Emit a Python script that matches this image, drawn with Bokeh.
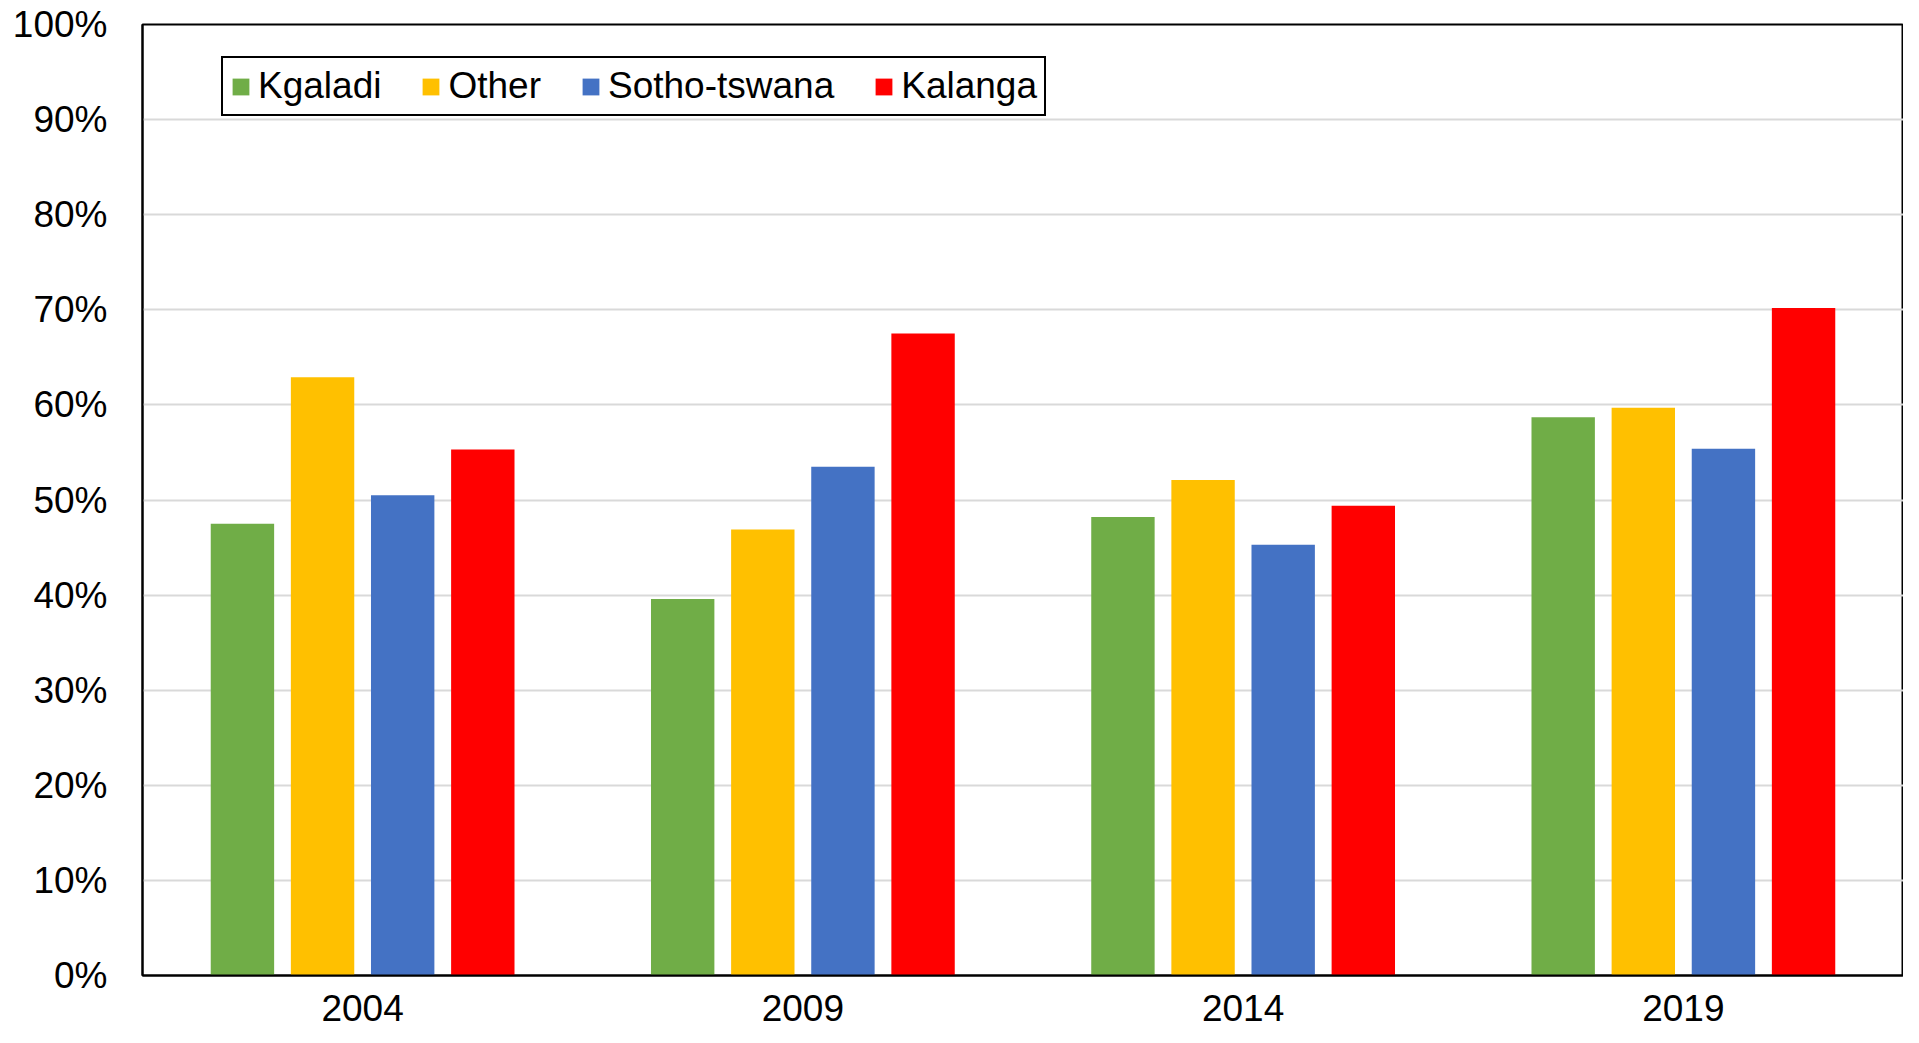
from bokeh.plotting import figure
from bokeh.models import (ColumnDataSource, Legend, LegendItem, NumeralTickFormatter,
                          FixedTicker, Range1d)
from bokeh.transform import dodge
from bokeh.embed import file_html
from bokeh.resources import INLINE

# ---- data (percent) ----
years = ["2004", "2009", "2014", "2019"]
kgaladi = [47.5, 39.6, 48.2, 58.7]
other = [62.9, 46.9, 52.1, 59.7]
sotho_tswana = [50.5, 53.5, 45.3, 55.4]
kalanga = [55.3, 67.5, 49.4, 70.2]
series_names = ["Kgaladi", "Other", "Sotho-tswana", "Kalanga"]
y_ticks = [0, 10, 20, 30, 40, 50, 60, 70, 80, 90, 100]

colors = ["#70AD47", "#FFC000", "#4472C4", "#FF0000"]
FONT = "Liberation Sans"

source = ColumnDataSource(dict(
    year=years,
    kg=[v / 100 for v in kgaladi],
    ot=[v / 100 for v in other],
    st=[v / 100 for v in sotho_tswana],
    ka=[v / 100 for v in kalanga],
))

p = figure(x_range=years, y_range=Range1d(0, 1),
           width=1903, height=1027,
           output_backend="svg", toolbar_location=None,
           min_border_left=142, min_border_right=0,
           min_border_top=24, min_border_bottom=52)

bar_w = 0.144
offsets = [-0.273, -0.091, 0.091, 0.273]
cols = ["kg", "ot", "st", "ka"]
renderers = []
for col, off, c in zip(cols, offsets, colors):
    r = p.vbar(x=dodge("year", off, range=p.x_range), top=col, width=bar_w,
               source=source, fill_color=c, line_color=None)
    renderers.append(r)

# axes
p.yaxis.ticker = FixedTicker(ticks=[t / 100 for t in y_ticks])
p.yaxis.formatter = NumeralTickFormatter(format="0%")
for ax in (p.xaxis, p.yaxis):
    ax.major_label_text_font = FONT
    ax.major_label_text_font_size = "37px"
    ax.major_label_text_color = "black"
    ax.major_tick_line_color = None
    ax.minor_tick_line_color = None
    ax.axis_line_color = "black"
    ax.axis_line_width = 2
p.yaxis.major_label_standoff = 29
p.xaxis.major_label_standoff = 13

p.xgrid.grid_line_color = None
p.ygrid.grid_line_color = "#D9D9D9"
p.ygrid.grid_line_width = 2

p.outline_line_color = "black"
p.outline_line_width = 2
p.background_fill_color = "white"
p.border_fill_color = "white"

legend = Legend(
    items=[LegendItem(label=n, renderers=[r]) for n, r in zip(series_names, renderers)],
    location=(79, 859), orientation="horizontal",
    label_text_font=FONT, label_text_font_size="37px", label_text_color="black",
    glyph_width=21, glyph_height=21, label_standoff=7, spacing=39, padding=7,
    border_line_color="black", border_line_width=2, border_line_alpha=1.0,
    background_fill_color="white", background_fill_alpha=1.0,
)
p.add_layout(legend)

open("out.html", "w").write(file_html(p, INLINE))
